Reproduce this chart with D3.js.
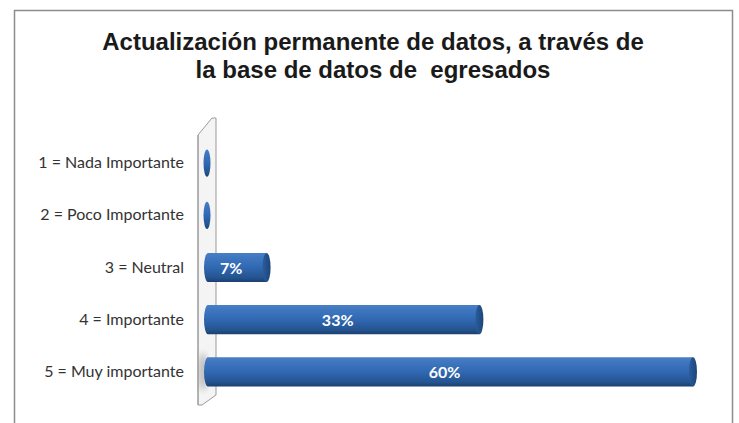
<!DOCTYPE html>
<html><head><meta charset="utf-8">
<script src="https://cdn.jsdelivr.net/npm/d3@7"></script>
<style>body{margin:0;background:#fff} text{white-space:pre}</style>
</head><body>
<script>
const categories = ["1 = Nada Importante","2 = Poco Importante","3 = Neutral","4 = Importante","5 = Muy importante"];
const values = [0, 0, 6.7, 33.3, 60];
const valueLabels = ["", "", "7%", "33%", "60%"];
const titleLines = ["Actualización permanente de datos, a través de", "la base de datos de  egresados"];

const W = 739, H = 423;
const svg = d3.select("body").append("svg").attr("width", W).attr("height", H);
const defs = svg.append("defs");
const g1 = defs.append("linearGradient").attr("id","cyl").attr("x1",0).attr("y1",0).attr("x2",0).attr("y2",1);
[[0,"#4a7fc4"],[0.15,"#3f77c0"],[0.5,"#3068b2"],[0.85,"#24548f"],[1,"#1b3f6e"]].forEach(([o,c])=>g1.append("stop").attr("offset",o).attr("stop-color",c));
const g2 = defs.append("linearGradient").attr("id","cap").attr("x1",0).attr("y1",0).attr("x2",1).attr("y2",0);
[[0,"#2a5c9e"],[1,"#1d4678"]].forEach(([o,c])=>g2.append("stop").attr("offset",o).attr("stop-color",c));
defs.append("filter").attr("id","blur").append("feGaussianBlur").attr("stdDeviation",3);

// outer border
svg.append("rect").attr("x",14.5).attr("y",10.5).attr("width",718).attr("height",430)
  .attr("fill","#fff").attr("stroke","#8c8c8c").attr("stroke-width",1.5);

// title
const title = svg.append("text").attr("text-anchor","middle")
  .attr("font-family","Liberation Sans, Arial, sans-serif").attr("font-weight","bold")
  .attr("font-size",24).attr("fill","#1a1a1a");
titleLines.forEach((t,i)=>title.append("tspan").attr("x",373).attr("y",50+i*28).text(t));

const x = d3.scaleLinear().domain([0,60]).range([213,693]);
const y = d3.scaleBand().domain(categories).range([137,398]).paddingInner(0.44).paddingOuter(0.22);
const bh = y.bandwidth();
const depth = 9; // 3D offset of the bar base in front of the wall

// wall (thin 3D panel)
svg.append("path").attr("d","M198,135 L212,118 L216,118 L216,395 L202,405 L198,405 Z")
  .attr("fill","#f4f4f4").attr("stroke","#9a9a9a").attr("stroke-width",1);
svg.append("path").attr("d","M198,135 L198,405").attr("stroke","#9a9a9a");
// shadow near the base of the last bar
svg.append("ellipse").attr("cx",203).attr("cy",y(categories[4])+bh/2).attr("rx",5).attr("ry",bh/2+4)
  .attr("fill","#9a9a9a").attr("opacity",0.6).attr("filter","url(#blur)");

// axis labels
const yAxis = d3.axisLeft(y).tickSize(0).tickPadding(0);
const ax = svg.append("g").attr("transform","translate(184,0)").call(yAxis);
ax.select(".domain").remove();
ax.selectAll("text").attr("font-family","Lato, sans-serif").attr("font-size",16).attr("fill","#333");

// bars
const bars = svg.append("g").selectAll("g").data(categories).join("g");
const rx = 4;
bars.each(function(c,i){
  const gg = d3.select(this);
  const v = values[i], y0 = y(c), x0 = x(0) - depth, x1 = x(v);
  if (v > 0) {
    gg.append("path").attr("d",
      `M${x0+rx},${y0} L${x1},${y0} L${x1},${y0+bh} L${x0+rx},${y0+bh} A${rx},${bh/2} 0 0 1 ${x0+rx},${y0} Z`)
      .attr("fill","url(#cyl)");
    gg.append("ellipse").attr("cx",x1).attr("cy",y0+bh/2).attr("rx",rx).attr("ry",bh/2).attr("fill","url(#cap)");
    gg.append("text").attr("x",(x0+x1)/2-4).attr("y",y0+bh/2+6).attr("text-anchor","middle")
      .attr("font-family","Lato, sans-serif").attr("font-weight","bold").attr("font-size",16)
      .attr("fill","#fff").text(valueLabels[i]);
  } else {
    gg.append("ellipse").attr("cx",x0+3).attr("cy",y0+bh/2).attr("rx",3.5).attr("ry",bh/2-1).attr("fill","url(#cyl)");
  }
});
</script>
</body></html>
